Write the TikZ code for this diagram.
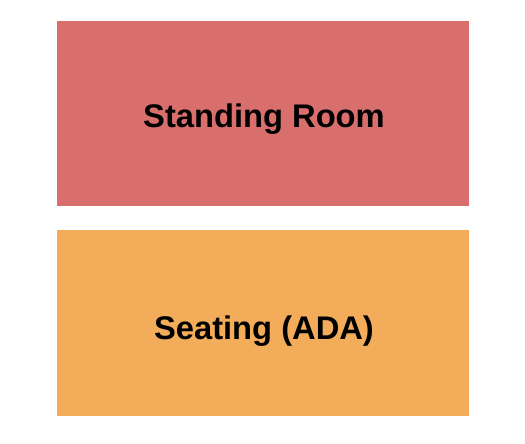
\documentclass[tikz,border=0pt]{standalone}
\usepackage{fontspec}
\setmainfont{Liberation Sans}
\definecolor{standred}{HTML}{D86F6D}
\definecolor{seatorange}{HTML}{F3AD5A}
\tikzset{
  section/.style={draw=none},
  label/.style={anchor=base, inner sep=0pt, font=\bfseries\fontsize{32.7bp}{36bp}\selectfont, text=black}
}
\begin{document}
\begin{tikzpicture}[x=1bp,y=1bp]
\useasboundingbox (0,0) rectangle (525,444);
\fill[white] (0,0) rectangle (525,444);
\fill[standred, section] (57,238) rectangle (469,423);
\fill[seatorange, section] (57,28) rectangle (469,214);
\node[label] (standing) at (264,316) {Standing Room};
\node[label] (seating) at (264,104) {Seating (ADA)};
\end{tikzpicture}
\end{document}
